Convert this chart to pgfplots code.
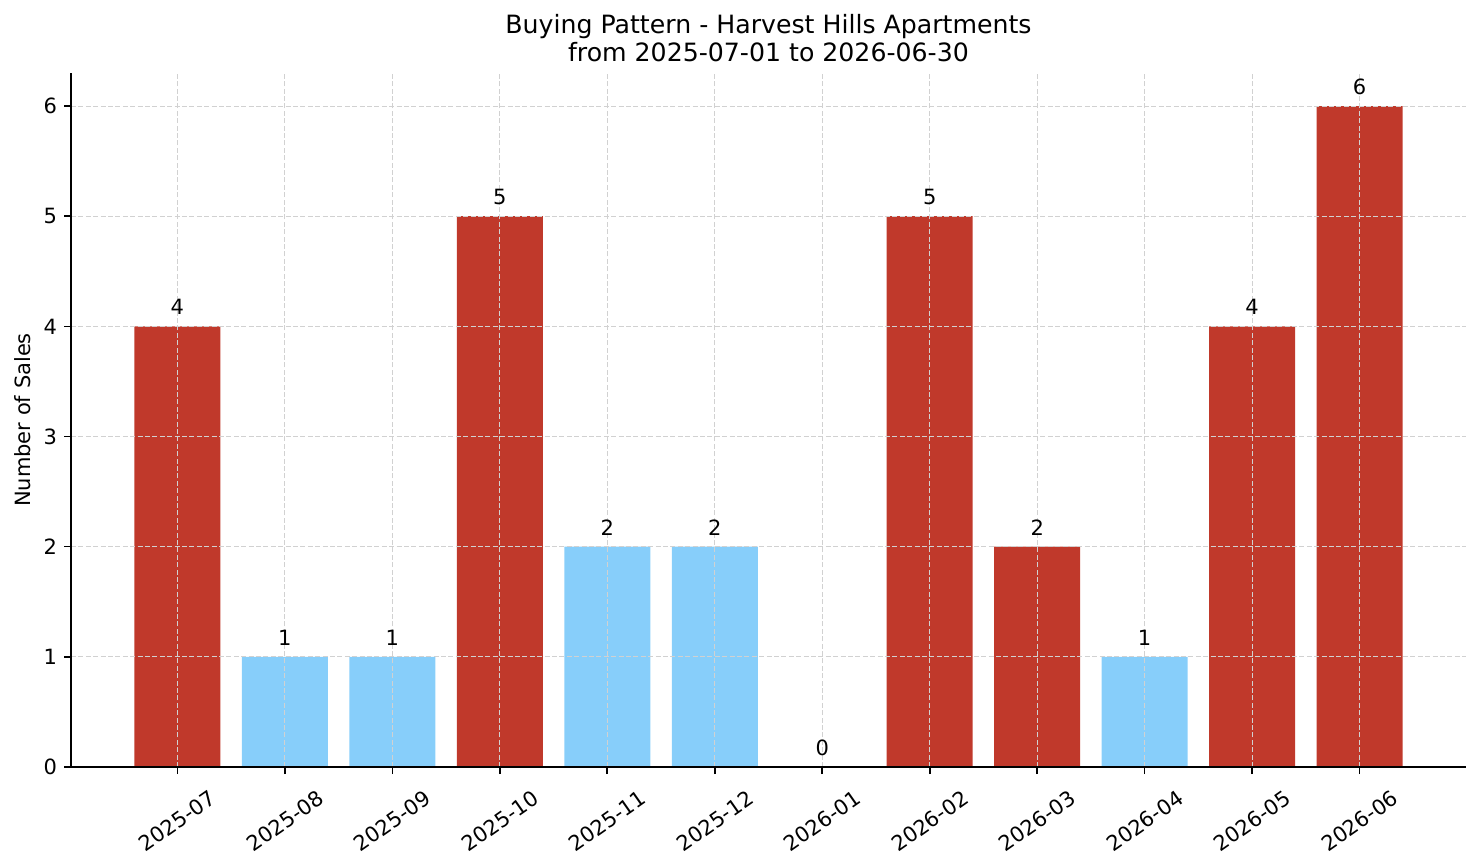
\documentclass[border=0pt]{standalone}
\usepackage{fontspec}
\setmainfont{DejaVu Sans}
\usepackage{pgfplots}
\usepackage{pgfplotstable}
\pgfplotsset{compat=1.18}
\definecolor{barred}{HTML}{C0392B}
\definecolor{barblue}{HTML}{87CEFA}
\pgfplotstableread{
x y
0 4
3 5
7 5
8 2
10 4
11 6
}\redtab
\pgfplotstableread{
x y
1 1
2 1
4 2
5 2
6 0
9 1
}\bluetab
\begin{document}
\begin{tikzpicture}
\path[use as bounding box] (-35.5pt,-48pt) rectangle (705pt,383.5pt);
\begin{axis}[
  at={(0,0)}, anchor=south west,
  scale only axis, width=697.5pt, height=347pt,
  xmin=-0.99, xmax=11.99, ymin=0, ymax=6.3,
  axis lines*=left, axis line style={-, line width=0.8pt, black},
  axis on top,
  ybar, bar width=0.8, bar shift=0pt,
  xtick={0,...,11},
  xticklabels={2025-07,2025-08,2025-09,2025-10,2025-11,2025-12,2026-01,2026-02,2026-03,2026-04,2026-05,2026-06},
  ytick={0,1,2,3,4,5,6},
  tick align=outside, major tick length=3.5pt,
  tick style={line width=0.8pt, black},
  grid=major,
  major grid style={dashed, dash pattern=on 2.5pt off 1.2pt, line width=0.4pt, black!18},
  /pgf/number format/assume math mode=true,
  ticklabel style={font=\fontsize{10.5}{12.5}\selectfont},
  xticklabel style={anchor=center, yshift=-23.5pt, rotate=35},
  ylabel={Number of Sales},
  ylabel style={at={(axis description cs:-0.0344,0.5)}, anchor=center, font=\fontsize{10.5}{12.5}\selectfont},
  title={Buying Pattern - Harvest Hills Apartments\\from 2025-07-01 to 2026-06-30},
  title style={align=center, font=\fontsize{12.6}{14.2}\selectfont, at={(axis description cs:0.5,1)}, anchor=south, yshift=-4pt},
  nodes near coords,
  nodes near coords style={anchor=south, inner sep=0pt, yshift=5.5pt, font=\fontsize{10.5}{12.5}\selectfont, black},
]
\addplot[fill=barred, draw=none] table[x=x,y=y] {\redtab};
\addplot[fill=barblue, draw=none] table[x=x,y=y] {\bluetab};
\end{axis}
\end{tikzpicture}
\end{document}
